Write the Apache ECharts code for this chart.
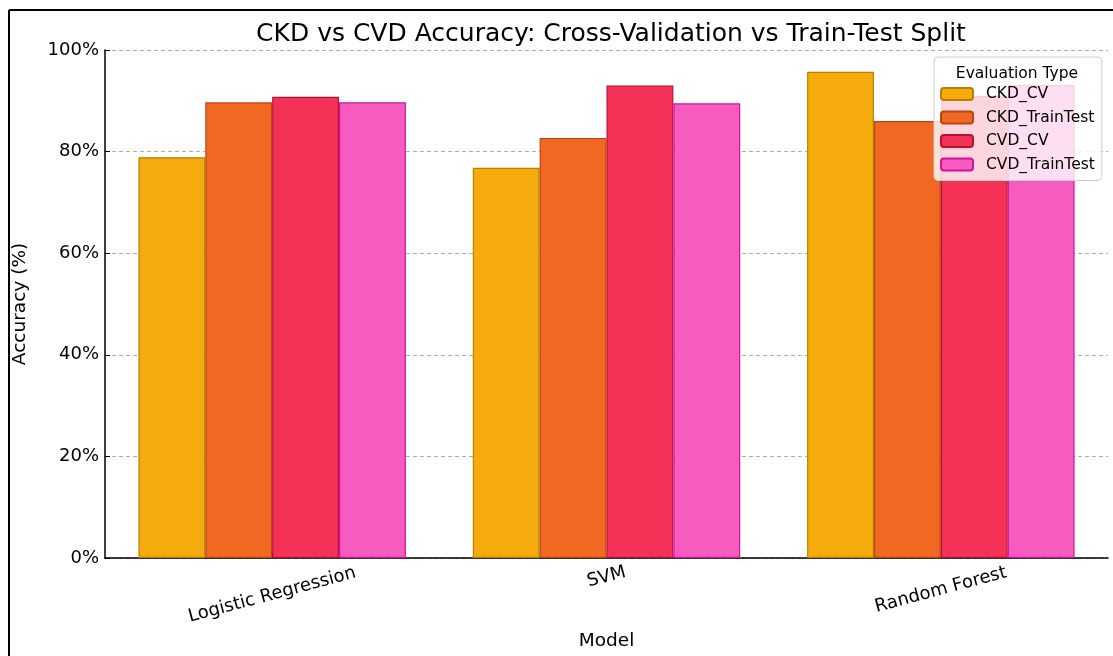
<!DOCTYPE html>
<html>
<head>
<meta charset="utf-8">
<script src="https://cdn.jsdelivr.net/npm/echarts@6/dist/echarts.min.js"></script>
<style>
  html, body { margin: 0; padding: 0; background: #fff; }
  #chart { width: 1113px; height: 656px; }
</style>
</head>
<body>
<div id="chart"></div>
<script>
// CKD vs CVD accuracy, grouped bars per model
var models = ['Logistic Regression', 'SVM', 'Random Forest'];
var seriesNames = ['CKD_CV', 'CKD_TrainTest', 'CVD_CV', 'CVD_TrainTest'];
var ckdCV = [78.9, 76.8, 95.7];
var ckdTrainTest = [89.7, 82.7, 86.0];
var cvdCV = [90.8, 93.0, 91.0];
var cvdTrainTest = [89.7, 89.5, 93.1];
var yTicks = [0, 20, 40, 60, 80, 100];

var fills = ['#F5AB0C', '#F26823', '#F43157', '#F75BC0'];
var edges = ['#B88000', '#B8460F', '#B8102E', '#D0159A'];
var font = 'DejaVu Sans';

// rotated labels are centred like matplotlib's, so each sits at its own distance
var labelMargin = [37, 19, 32];

var chart = echarts.init(document.getElementById('chart'), null, { renderer: 'canvas' });

var allValues = [ckdCV, ckdTrainTest, cvdCV, cvdTrainTest];
var series = seriesNames.map(function(name, i) {
  return {
    name: name,
    type: 'bar',
    data: allValues[i],
    barGap: '0%',
    barCategoryGap: '20%',
    itemStyle: { color: fills[i], borderColor: edges[i], borderWidth: 1.2 }
  };
});

// one category axis per label distance; only the first one draws line/ticks/name
var xAxes = models.map(function(m, k) {
  var main = k === 0;
  return {
    type: 'category',
    data: models,
    position: 'bottom',
    name: main ? 'Model' : '',
    nameLocation: 'middle',
    nameGap: 74,
    nameTextStyle: { fontFamily: font, fontSize: 18.5, color: '#000' },
    axisLine: { show: main, lineStyle: { color: '#000', width: 1.5 } },
    axisTick: { show: main, inside: true, alignWithLabel: true, length: 5, lineStyle: { color: '#000' } },
    splitLine: { show: false },
    axisLabel: {
      interval: function(idx) { return idx === k; },
      rotate: 15,
      align: 'center',
      verticalAlign: 'middle',
      margin: labelMargin[k],
      fontFamily: font,
      fontSize: 18,
      color: '#000'
    }
  };
});

chart.setOption({
  animation: false,
  title: [{
    text: 'CKD vs CVD Accuracy: Cross-Validation vs Train-Test Split',
    left: 606,
    textAlign: 'center',
    top: 17,
    textStyle: { fontFamily: font, fontSize: 25, fontWeight: 'normal', color: '#000' }
  }, {
    text: 'Evaluation Type',
    left: 1012,
    textAlign: 'center',
    top: 61,
    z: 10,
    textStyle: { fontFamily: font, fontSize: 15.5, fontWeight: 'normal', color: '#000' }
  }],
  graphic: [{
    type: 'line',
    shape: { x1: 9, y1: 10, x2: 1113, y2: 10 },
    style: { stroke: '#000', lineWidth: 2 },
    silent: true
  }, {
    type: 'line',
    shape: { x1: 9, y1: 10, x2: 9, y2: 656 },
    style: { stroke: '#000', lineWidth: 2 },
    silent: true
  }],
  legend: {
    orient: 'vertical',
    left: 934,
    top: 57,
    data: seriesNames,
    itemWidth: 32,
    itemHeight: 12,
    itemGap: 7.5,
    padding: [29, 7, 8, 6],
    backgroundColor: 'rgba(255,255,255,0.8)',
    borderColor: '#ccc',
    borderWidth: 1,
    borderRadius: 4,
    textStyle: { fontFamily: font, fontSize: 15.5, color: '#000', padding: [0, 0, 0, 8] }
  },
  grid: { left: 105, right: 5, top: 50, bottom: 98, outerBoundsMode: 'none' },
  xAxis: xAxes,
  yAxis: {
    type: 'value',
    min: yTicks[0],
    max: yTicks[yTicks.length - 1],
    interval: yTicks[1] - yTicks[0],
    name: 'Accuracy (%)',
    nameLocation: 'middle',
    nameGap: 75,
    nameTextStyle: { fontFamily: font, fontSize: 18.5, color: '#000' },
    axisLine: { show: true, lineStyle: { color: '#000', width: 1.5 } },
    axisTick: { show: true, inside: true, length: 5, lineStyle: { color: '#000' } },
    axisLabel: { formatter: '{value}%', fontFamily: font, fontSize: 18, color: '#000', margin: 6 },
    splitLine: { lineStyle: { color: '#b0b0b0', type: [4, 3] } }
  },
  series: series
});
window.addEventListener('resize', function() { chart.resize(); });
</script>
</body>
</html>
